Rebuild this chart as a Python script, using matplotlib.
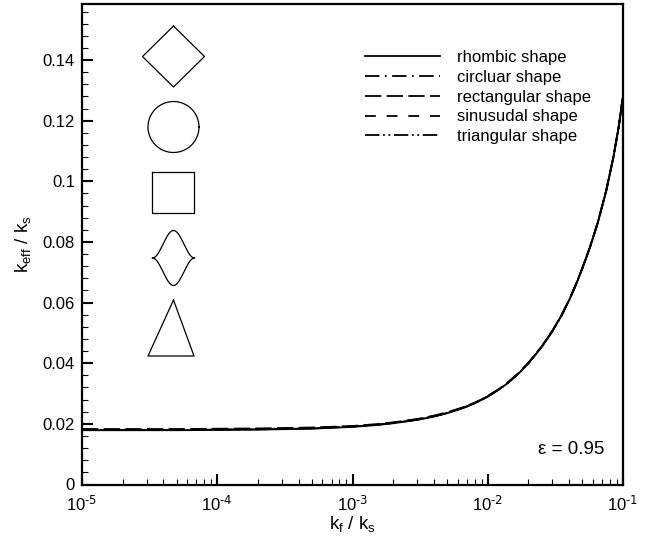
import numpy as np
import matplotlib
matplotlib.use("Agg")
import matplotlib.pyplot as plt
from matplotlib.ticker import MultipleLocator, LogLocator, NullFormatter, FuncFormatter

plt.rcParams['font.family'] = ['Liberation Sans', 'DejaVu Sans']
plt.rcParams['mathtext.default'] = 'regular'
plt.rcParams['axes.unicode_minus'] = False

# k_f / k_s
kf = [1e-5, 2e-5, 5e-5, 1e-4, 2e-4, 5e-4, 1e-3, 1.5e-3, 2e-3, 3e-3, 4e-3,
      5e-3, 6e-3, 7e-3, 8e-3, 9e-3, 1e-2, 1.2e-2, 1.4e-2, 1.7e-2, 2e-2,
      2.5e-2, 3e-2, 3.5e-2, 4e-2, 4.5e-2, 5e-2, 5.7e-2, 6.5e-2, 7.5e-2,
      8.5e-2, 9.3e-2, 1e-1]

# k_eff / k_s for each pore shape (curves nearly coincide)
rhombic = [0.0179, 0.0179, 0.0179, 0.0180, 0.0181, 0.0184, 0.0190, 0.0196, 0.0202, 0.0213, 0.0224,
           0.0235, 0.0246, 0.0257, 0.0268, 0.0279, 0.0290, 0.0312, 0.0334, 0.0367, 0.0400,
           0.0453, 0.0505, 0.0556, 0.0608, 0.0660, 0.0712, 0.0782, 0.0862, 0.0967,
           0.1080, 0.1180, 0.1280]
circular = [0.0180, 0.0180, 0.0180, 0.0181, 0.0182, 0.0185, 0.0191, 0.0197, 0.0203, 0.0214, 0.0225,
            0.0236, 0.0247, 0.0258, 0.0269, 0.0280, 0.0291, 0.0313, 0.0335, 0.0368, 0.0401,
            0.0454, 0.0506, 0.0557, 0.0609, 0.0661, 0.0713, 0.0783, 0.0863, 0.0968,
            0.1081, 0.1181, 0.1281]
rectangular = [0.0183, 0.0183, 0.0183, 0.0184, 0.0185, 0.0188, 0.0193, 0.0199, 0.0205, 0.0216, 0.0227,
               0.0238, 0.0249, 0.0259, 0.0270, 0.0281, 0.0292, 0.0314, 0.0336, 0.0369, 0.0402,
               0.0455, 0.0507, 0.0558, 0.0610, 0.0662, 0.0714, 0.0784, 0.0864, 0.0969,
               0.1082, 0.1182, 0.1282]
sinusoidal = [0.0181, 0.0181, 0.0181, 0.0182, 0.0183, 0.0186, 0.0192, 0.0198, 0.0204, 0.0215, 0.0226,
              0.0237, 0.0248, 0.0258, 0.0269, 0.0280, 0.0291, 0.0313, 0.0335, 0.0368, 0.0401,
              0.0454, 0.0506, 0.0557, 0.0609, 0.0661, 0.0713, 0.0783, 0.0863, 0.0968,
              0.1081, 0.1181, 0.1281]
triangular = [0.0180, 0.0180, 0.0180, 0.0181, 0.0182, 0.0185, 0.0191, 0.0197, 0.0203, 0.0214, 0.0225,
              0.0236, 0.0247, 0.0257, 0.0268, 0.0279, 0.0290, 0.0312, 0.0334, 0.0367, 0.0400,
              0.0453, 0.0505, 0.0556, 0.0608, 0.0660, 0.0712, 0.0782, 0.0862, 0.0967,
              0.1080, 0.1180, 0.1280]

labels = ['rhombic shape', 'circluar shape', 'rectangular shape',
          'sinusudal shape', 'triangular shape']
styles = ['-', (0, (8, 3, 1, 3)), (0, (9, 3)), (0, (6, 6)), (0, (8, 2, 1, 2, 1, 2))]

fig = plt.figure(figsize=(6.47, 5.37), dpi=100)
ax = fig.add_axes([82/647, 1-484.5/537, 541/647, 480.5/537])

for ys, lab, ls in zip([rhombic, circular, rectangular, sinusoidal, triangular], labels, styles):
    ax.plot(kf, ys, color='black', lw=1.3, linestyle=ls, label=lab)

ax.set_xscale('log')
ax.set_xlim(1e-5, 1e-1)
ax.set_ylim(0, 0.1585)
ax.yaxis.set_minor_locator(MultipleLocator(0.004))
ax.xaxis.set_major_locator(LogLocator(base=10, numticks=10))
ax.xaxis.set_minor_locator(LogLocator(base=10, subs=np.arange(2, 10), numticks=20))
ax.xaxis.set_minor_formatter(NullFormatter())
ax.xaxis.set_major_formatter(FuncFormatter(
    lambda v, p: '10$^{\\text{%d}}$' % int(round(np.log10(v)))))
ax.set_yticks([0, 0.02, 0.04, 0.06, 0.08, 0.1, 0.12, 0.14])
ax.set_yticklabels(['0', '0.02', '0.04', '0.06', '0.08', '0.1', '0.12', '0.14'])

ax.tick_params(which='both', direction='in', top=False, right=False, labelsize=12)
ax.tick_params(axis='y', pad=5)
ax.tick_params(axis='x', pad=7)
ax.tick_params(which='major', length=8, width=1.5)
ax.tick_params(which='minor', length=4.5, width=0.8)
for s in ax.spines.values():
    s.set_linewidth(1.6)

ax.set_xlabel('k$_f$ / k$_s$', fontsize=13.5, labelpad=0)
ax.set_ylabel('k$_{eff}$ / k$_s$', fontsize=13.5, labelpad=7)

leg = ax.legend(loc='upper left', bbox_to_anchor=((365 - 82) / 541, (484.5 - 50) / 480.5),
                frameon=False, fontsize=12, borderpad=0, borderaxespad=0,
                handlelength=4.5, handletextpad=1.0, labelspacing=0.29)

ax.text((604 - 82) / 541, (484.5 - 450) / 480.5, 'ε = 0.95', transform=ax.transAxes,
        ha='right', va='center', fontsize=13.5)

# overlay in pixel coordinates for the pore shape sketches
ov = fig.add_axes([0, 0, 1, 1])
ov.set_xlim(0, 647)
ov.set_ylim(537, 0)
ov.axis('off')
kw = dict(color='black', lw=0.9)

cx = 173.5
# rhombus
ov.plot([cx, cx + 31, cx, cx - 31, cx], [26, 56.5, 87, 56.5, 26], **kw)
# circle
t = np.linspace(0, 2 * np.pi, 200)
ov.plot(cx + 25.5 * np.cos(t), 127 + 25.5 * np.sin(t), **kw)
# square
ov.plot([152, 194, 194, 152, 152], [172, 172, 213, 213, 172], **kw)
# sinusoidal
u = np.linspace(-1, 1, 200)
h = 27.5 * (1 + np.cos(np.pi * u)) / 2
ov.plot(cx + 21 * u, 258 - h, **kw)
ov.plot(cx + 21 * u, 258 + h, **kw)
# triangle
ov.plot([cx, 194, 148, cx], [300, 356, 356, 300], **kw)

fig.savefig('out.png', dpi=100)
